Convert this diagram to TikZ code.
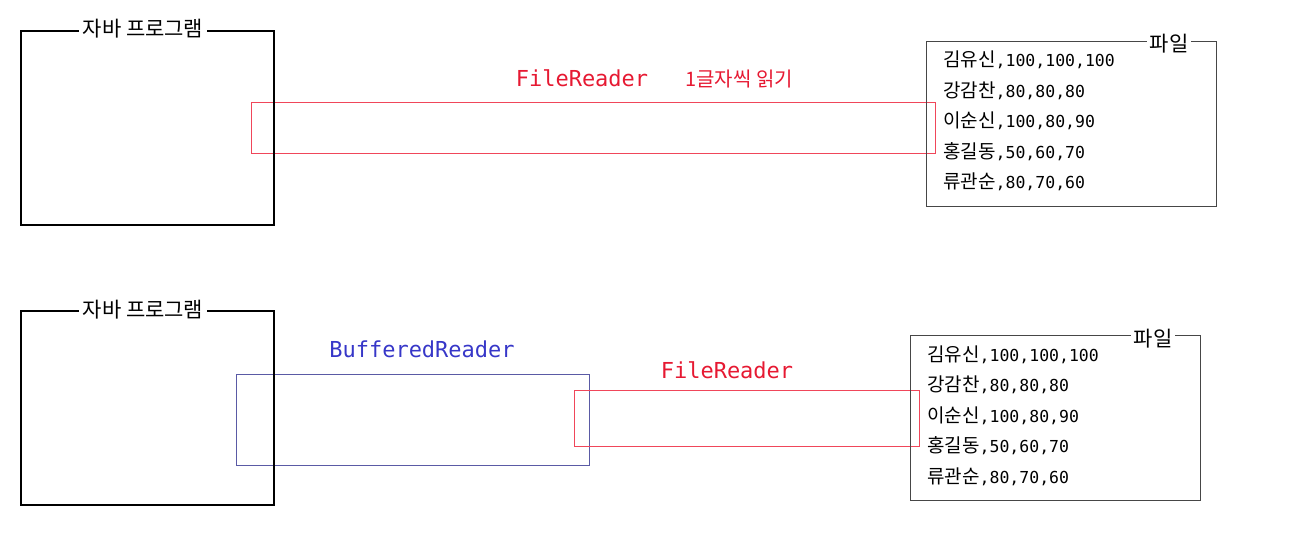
\documentclass[tikz,border=0pt]{standalone}
\usepackage{fontspec}
\setmonofont{DejaVu Sans Mono}
\newfontfamily\kr{Noto Sans CJK KR}
\usetikzlibrary{positioning}

\definecolor{frline}{RGB}{240,70,90}
\definecolor{frtext}{RGB}{230,25,50}
\definecolor{brline}{RGB}{90,90,165}
\definecolor{brtext}{RGB}{55,55,200}
\definecolor{fileline}{RGB}{70,70,70}

\begin{document}
\begin{tikzpicture}[x=1pt,y=-1pt,
    box/.style={draw,anchor=north west,inner sep=0pt},
    prog/.style={box,line width=2.2pt},
    stream/.style={box,line width=1pt},
    tag/.style={fill=white,inner sep=4pt,anchor=base,font=\kr\fontsize{21}{24}\selectfont},
    cls/.style={anchor=base,font=\ttfamily\fontsize{22}{26}\selectfont},
    rec/.style={anchor=base west,inner sep=0pt}]
  \useasboundingbox (0,0) rectangle (1292,548);

  % streams (under the program boxes)
  \node[stream,draw=frline,minimum width=684pt,minimum height=51pt] (fr-top) at (251,102) {};
  \node[cls,text=frtext] (frname-top) at (582,87) {FileReader};
  \node[anchor=base,text=frtext,font=\kr\fontsize{20}{23}\selectfont] (frnote) at (739,87) {1글자씩 읽기};

  \node[stream,draw=brline,minimum width=353pt,minimum height=91pt] (br-bot) at (236,374) {};
  \node[cls,text=brtext] (brname-bot) at (422,357) {BufferedReader};
  \node[stream,draw=frline,minimum width=345pt,minimum height=56pt] (fr-bot) at (574,390) {};
  \node[cls,text=frtext] (frname-bot) at (727,378) {FileReader};

  % java programs
  \foreach \py/\pn in {30/top,310/bot}{
    \node[prog,minimum width=253pt,minimum height=194pt] (prog-\pn) at (20,\py) {};
    \node[tag] (progtag-\pn) at (143,\py+7) {자바 프로그램};
  }

  % files and their records
  \foreach \fx/\fy/\fn in {926/41/top,910/335/bot}{
    \node[box,draw=fileline,line width=1pt,minimum width=290pt,minimum height=165pt] (file-\fn) at (\fx,\fy) {};
    \node[tag,inner sep=3pt] (filetag-\fn) at (\fx+243,\fy+11) {파일};
    \foreach \who/\pts [count=\i from 0] in {김유신/{100,100,100},강감찬/{80,80,80},
        이순신/{100,80,90},홍길동/{50,60,70},류관순/{80,70,60}}{
      \node[rec] (rec-\fn-\i) at (\fx+17,\fy+26+30.5*\i)
        {{\kr\fontsize{19}{22}\selectfont\who}{\ttfamily\fontsize{16.5}{20}\selectfont,\pts}};
    }
  }
\end{tikzpicture}
\end{document}
